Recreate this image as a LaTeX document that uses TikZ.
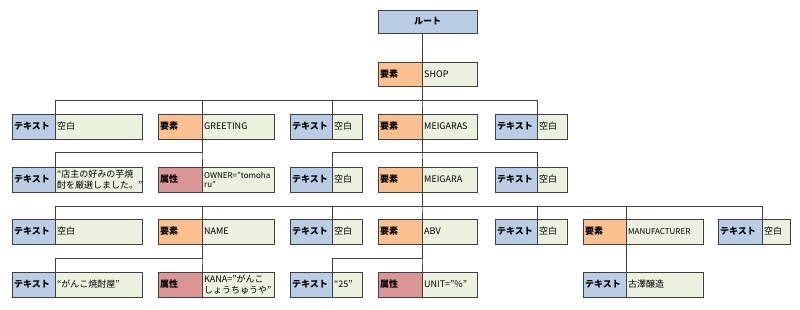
\documentclass[tikz,border=0pt]{standalone}
\usepackage{fontspec}
\setmainfont{Noto Sans CJK JP}
\definecolor{cblue}{HTML}{B9CDE5}
\definecolor{corange}{HTML}{FAC090}
\definecolor{cred}{HTML}{D99694}
\definecolor{cval}{HTML}{EBF1DE}
\definecolor{cline}{HTML}{404040}
\newcommand\valfont{\fontsize{9}{10.5}\selectfont}
\tikzset{
  cell/.style={draw=cline, line width=0.9pt, inner sep=0pt, outer sep=0pt, anchor=north west},
  labtxt/.style={anchor=west, inner sep=0pt, font=\fontsize{9}{10}\selectfont\bfseries},
  valtxt/.style={anchor=west, inner sep=0pt, align=left, font=\valfont},
  conn/.style={draw=cline, line width=0.8pt},
}
\newcommand\pairbox[9]{%
  \node[cell, fill=#6, minimum width={(#3-#2)*1pt}, minimum height={#9*1pt}] (#1l) at (#2,#5) {};
  \node[cell, fill=cval, minimum width={(#4-#3)*1pt}, minimum height={#9*1pt}] (#1v) at (#3,#5) {};
  \node[labtxt] (#1lt) at ([xshift=2pt]#1l.west) {#7};
  \node[valtxt] (#1vt) at ([xshift=2pt]#1v.west) {#8};
}
\begin{document}
\begin{tikzpicture}[x=1pt,y=-1pt]
\useasboundingbox (0,0) rectangle (800,309);
\coordinate (bus1) at (0,100);
\coordinate (bus2) at (0,152);
\coordinate (bus3) at (0,206);
\coordinate (bus4) at (0,258);

% root
\node[cell, fill=cblue, minimum width=99pt, minimum height=23pt] (root) at (378,10) {};
\node[labtxt, anchor=center] (roott) at (root.center) {ルート};

% row 1
\pairbox{shop}{378}{422}{477}{62}{corange}{要素}{SHOP}{24}
% row 2
\pairbox{a2}{12}{55}{142}{114}{cblue}{テキスト}{空白}{25}
\pairbox{b2}{158}{202}{274}{114}{corange}{要素}{GREETING}{25}
\pairbox{c2}{290}{332}{362}{114}{cblue}{テキスト}{空白}{25}
\pairbox{d2}{378}{422}{477}{114}{corange}{要素}{MEIGARAS}{25}
\pairbox{e2}{495}{537}{567}{114}{cblue}{テキスト}{空白}{25}
% row 3
\pairbox{a3}{12}{55}{142}{167}{cblue}{テキスト}{“店主の好みの芋焼\\酎を厳選しました。”}{25}
\renewcommand\valfont{\fontsize{8}{9}\selectfont}
\pairbox{b3}{158}{202}{274}{167}{cred}{属性}{OWNER=”tomoha\\ru”}{25}
\renewcommand\valfont{\fontsize{9}{10.5}\selectfont}
\pairbox{c3}{290}{332}{362}{167}{cblue}{テキスト}{空白}{25}
\pairbox{d3}{378}{422}{477}{167}{corange}{要素}{MEIGARA}{25}
\pairbox{e3}{495}{537}{567}{167}{cblue}{テキスト}{空白}{25}
% row 4
\pairbox{a4}{12}{55}{142}{219}{cblue}{テキスト}{空白}{25}
\pairbox{b4}{158}{202}{274}{219}{corange}{要素}{NAME}{25}
\pairbox{c4}{290}{332}{362}{219}{cblue}{テキスト}{空白}{25}
\pairbox{d4}{378}{422}{477}{219}{corange}{要素}{ABV}{25}
\pairbox{e4}{495}{537}{567}{219}{cblue}{テキスト}{空白}{25}
\renewcommand\valfont{\fontsize{8}{9}\selectfont}
\pairbox{f4}{583}{626}{703}{219}{corange}{要素}{MANUFACTURER}{25}
\renewcommand\valfont{\fontsize{9}{10.5}\selectfont}
\pairbox{g4}{718}{762}{790}{219}{cblue}{テキスト}{空白}{25}
% row 5
\pairbox{a5}{12}{55}{142}{272}{cblue}{テキスト}{“がんこ焼酎屋”}{25}
\pairbox{b5}{158}{202}{274}{272}{cred}{属性}{KANA=”がんこ\\しょうちゅうや”}{25}
\pairbox{c5}{290}{332}{362}{272}{cblue}{テキスト}{“25”}{25}
\pairbox{d5}{378}{422}{477}{272}{cred}{属性}{UNIT=”\%”}{25}
\pairbox{f5}{583}{626}{703}{272}{cblue}{テキスト}{古澤醸造}{25}

% connectors
\draw[conn] (root.south -| shopl.north east) -- (shopl.north east);
\foreach \c in {a2l,b2l,c2l,d2l,e2l}
  \draw[conn] (shopl.south east) -- (shopl.south east |- bus1) -| (\c.north east);
\foreach \c in {a3l,b3l}
  \draw[conn] (b2l.south east) -- (b2l.south east |- bus2) -| (\c.north east);
\foreach \c in {c3l,d3l,e3l}
  \draw[conn] (d2l.south east) -- (d2l.south east |- bus2) -| (\c.north east);
\foreach \c in {a4l,b4l,c4l,d4l,e4l,f4l,g4l}
  \draw[conn] (d3l.south east) -- (d3l.south east |- bus3) -| (\c.north east);
\foreach \c in {a5l,b5l}
  \draw[conn] (b4l.south east) -- (b4l.south east |- bus4) -| (\c.north east);
\foreach \c in {c5l,d5l}
  \draw[conn] (d4l.south east) -- (d4l.south east |- bus4) -| (\c.north east);
\draw[conn] (f4l.south east) -- (f5l.north east);
\end{tikzpicture}
\end{document}
